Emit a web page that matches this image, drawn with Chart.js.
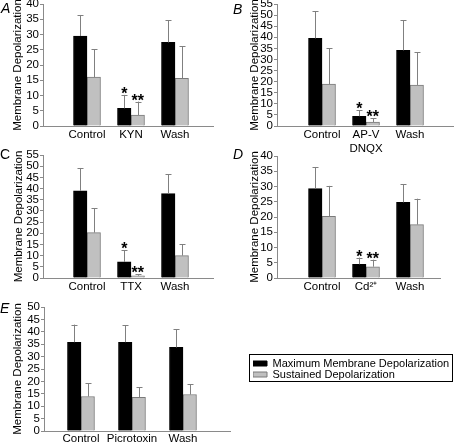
<!DOCTYPE html>
<html><head><meta charset="utf-8">
<script src="https://cdn.jsdelivr.net/npm/chart.js@4"></script>
<style>
html,body{margin:0;padding:0;background:#fff;}
body{width:454px;height:444px;position:relative;overflow:hidden;}
canvas{position:absolute;}
.lab{position:absolute;font:italic 14px "Liberation Sans",Arial,sans-serif;line-height:14px;color:#000;}
</style></head><body>
<canvas id="cA" width="227" height="152" style="left:0;top:-6px"></canvas>
<canvas id="cB" width="227" height="162" style="left:227px;top:-6px"></canvas>
<canvas id="cC" width="227" height="153" style="left:0;top:145px"></canvas>
<canvas id="cD" width="227" height="152" style="left:227px;top:146px"></canvas>
<canvas id="cE" width="454" height="147" style="left:0;top:297px"></canvas>
<div class="lab" style="left:1px;top:1px">A</div>
<div class="lab" style="left:233px;top:2px">B</div>
<div class="lab" style="left:0;top:147px;font-style:normal">C</div>
<div class="lab" style="left:233px;top:147px">D</div>
<div class="lab" style="left:0;top:301px">E</div>
<script>
// ---------- data ----------
const yTitle = 'Membrane Depolarization';
const seriesNames = ['Maximum Membrane Depolarization', 'Sustained Depolarization'];

const catsA = ['Control', 'KYN', 'Wash'];
const maxA = [29.5, 5.8, 27.4];
const maxErrA = [6.9, 4.4, 7.2];
const susA = [16.0, 3.6, 15.6];
const susErrA = [9.1, 4.4, 10.5];
const starsMaxA = ['', '*', ''];
const starsSusA = ['', '**', ''];
const yMaxA = 40;

const catsB = ['Control', ['AP-V', 'DNQX'], 'Wash'];
const maxB = [39.5, 4.4, 34.1];
const maxErrB = [12.2, 2.7, 13.6];
const susB = [18.9, 1.8, 18.5];
const susErrB = [16.1, 1.7, 14.7];
const starsMaxB = ['', '*', ''];
const starsSusB = ['', '**', ''];
const yMaxB = 55;

const catsC = ['Control', 'TTX', 'Wash'];
const maxC = [39.0, 7.2, 37.7];
const maxErrC = [10.2, 5.1, 8.8];
const susC = [20.3, 1.0, 10.0];
const susErrC = [10.8, 0.6, 5.0];
const starsMaxC = ['', '*', ''];
const starsSusC = ['', '**', ''];
const yMaxC = 55;

const catsD = ['Control', 'Cd\u00B2\u207A', 'Wash'];
const maxD = [29.3, 4.5, 24.8];
const maxErrD = [7.1, 2.2, 6.0];
const susD = [20.2, 3.7, 17.5];
const susErrD = [10.0, 2.3, 8.5];
const starsMaxD = ['', '*', ''];
const starsSusD = ['', '**', ''];
const yMaxD = 40;

const catsE = ['Control', 'Picrotoxin', 'Wash'];
const maxE = [35.8, 35.8, 33.7];
const maxErrE = [7.1, 6.8, 7.4];
const susE = [13.9, 13.6, 14.7];
const susErrE = [5.4, 4.1, 4.2];
const starsMaxE = ['', '', ''];
const starsSusE = ['', '', ''];
const yMaxE = 50;
const yStep = 5;

// ---------- rendering ----------
const FONT = "'Liberation Sans', Arial, sans-serif";
const AXIS = '#8a8a8a';

const errPlugin = {
  id: 'errbars',
  afterDatasetsDraw(chart) {
    const ctx = chart.ctx, ys = chart.scales.y;
    chart.data.datasets.forEach((ds, di) => {
      const meta = chart.getDatasetMeta(di);
      meta.data.forEach((bar, i) => {
        const v = ds.data[i].y, e = ds.errors[i];
        const top = ys.getPixelForValue(v + e);
        const x = Math.round(bar.x) + 0.5;
        ctx.save();
        ctx.strokeStyle = '#808080';
        ctx.lineWidth = 1;
        ctx.beginPath();
        ctx.moveTo(x, bar.y);
        ctx.lineTo(x, top);
        ctx.moveTo(x - 3, Math.round(top) + 0.5);
        ctx.lineTo(x + 3, Math.round(top) + 0.5);
        ctx.stroke();
        if (ds.stars[i]) {
          ctx.fillStyle = '#000';
          ctx.font = 'bold 16px ' + FONT;
          ctx.textAlign = 'center';
          ctx.textBaseline = 'alphabetic';
          ctx.fillText(ds.stars[i], bar.x, top + 4);
        }
        ctx.restore();
      });
    });
  }
};

const legendBox = {
  id: 'legendBox',
  afterDraw(chart) {
    const lg = chart.legend;
    if (!lg || !lg.options.display) return;
    const hb = lg.legendHitBoxes;
    const ctx = chart.ctx;
    const l = hb[0].left - 4, t = hb[0].top - 4;
    const b = hb[hb.length - 1].top + hb[hb.length - 1].height + 1;
    ctx.save();
    ctx.strokeStyle = '#000';
    ctx.lineWidth = 1;
    ctx.strokeRect(Math.round(l) + 0.5, Math.round(t) + 0.5, 453 - Math.round(l) - 1, Math.round(b - t));
    ctx.restore();
  }
};

function panel(id, cats, maxV, maxErr, susV, susErr, sMax, sSus, yMax, L) {
  const pts = arr => arr.map((y, i) => ({x: i + 1, y}));
  const scales = {
    x: {
      type: 'linear', min: L.xMin, max: L.xMax, offset: false,
      grid: {display: false, drawTicks: false, offset: false},
      border: {color: AXIS},
      afterBuildTicks: s => { s.ticks = cats.map((c, i) => ({value: i + 1})); },
      afterFit: s => { s.height = L.xH; },
      ticks: {autoSkip: false, maxRotation: 0, padding: L.xPad, color: '#000',
        font: {family: FONT, size: 11.5},
        callback: (v, i) => cats[i]}
    },
    y: {
      min: 0, max: yMax,
      afterFit: s => { s.width = L.yW; },
      grid: {drawOnChartArea: false, drawTicks: true, tickLength: 3, color: AXIS},
      border: {color: AXIS},
      ticks: {stepSize: yStep, autoSkip: false, padding: 1, color: '#000', font: {family: FONT, size: 11.5}},
      title: {display: true, text: yTitle, color: '#000', font: {family: FONT, size: 11.5},
        padding: {top: L.tPad, bottom: 0}}
    }
  };
  if (L.legend) {
    scales.y2 = {position: 'right', display: true, grid: {display: false},
      border: {display: false}, ticks: {display: false}, afterFit: s => { s.width = L.gap; }};
  }
  return new Chart(document.getElementById(id), {
    type: 'bar',
    data: {datasets: [
      {label: seriesNames[0], data: pts(maxV), errors: maxErr, stars: sMax,
        backgroundColor: '#000', borderColor: '#000', borderWidth: 1, barThickness: 13.5},
      {label: seriesNames[1], data: pts(susV), errors: susErr, stars: sSus,
        backgroundColor: '#c0c0c0', borderColor: '#7a7a7a', borderWidth: 1, barThickness: 13.5}
    ]},
    options: {
      responsive: false, animation: false, devicePixelRatio: 1,
      layout: {padding: {top: 10, right: L.padR, bottom: 0, left: 0}},
      plugins: {
        tooltip: {enabled: false},
        legend: L.legend ? {
          display: true, position: 'right', fullSize: false, maxWidth: 201,
          labels: {boxWidth: 14, boxHeight: 5, padding: 0, color: '#000',
            font: {family: FONT, size: 11}}
        } : {display: false}
      },
      scales
    },
    plugins: L.legend ? [errPlugin, legendBox] : [errPlugin]
  });
}

panel('cA', catsA, maxA, maxErrA, susA, susErrA, starsMaxA, starsSusA, yMaxA,
  {xMin: 0, xMax: 3.864, xH: 20, xPad: 2, yW: 43, tPad: 11, padR: 14});
panel('cB', catsB, maxB, maxErrB, susB, susErrB, starsMaxB, starsSusB, yMaxB,
  {xMin: -0.023, xMax: 4.0, xH: 30, xPad: 2, yW: 50, tPad: 20.5, padR: 0});
panel('cC', catsC, maxC, maxErrC, susC, susErrC, starsMaxC, starsSusC, yMaxC,
  {xMin: 0, xMax: 3.864, xH: 20, xPad: 2, yW: 43, tPad: 12, padR: 14});
panel('cD', catsD, maxD, maxErrD, susD, susErrD, starsMaxD, starsSusD, yMaxD,
  {xMin: -0.023, xMax: 3.682, xH: 20, xPad: 2, yW: 50, tPad: 20.5, padR: 14});
panel('cE', catsE, maxE, maxErrE, susE, susErrE, starsMaxE, starsSusE, yMaxE,
  {xMin: 0.275, xMax: 3.922, xH: 13, xPad: 1, yW: 44, tPad: 11, padR: 0, legend: true, gap: 23});
</script>
</body></html>
